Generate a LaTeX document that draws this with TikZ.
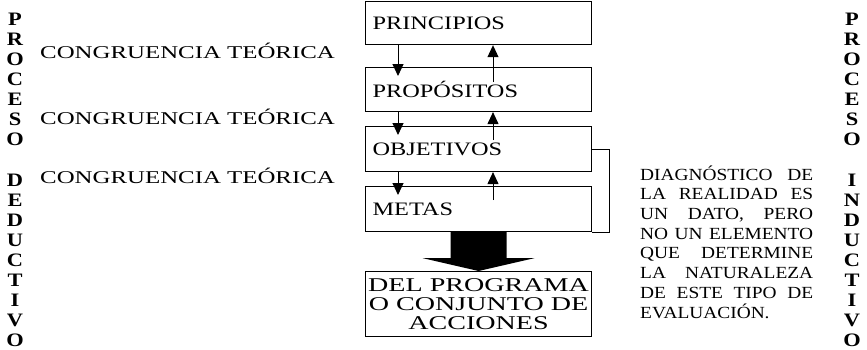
\documentclass[tikz,border=0pt]{standalone}
\usepackage{fontspec}
\setmainfont{Liberation Serif}
\newfontfamily\congfont[FakeStretch=1.38]{Liberation Serif}
\newfontfamily\boxfont[FakeStretch=1.28]{Liberation Serif}
\newfontfamily\progfont[FakeStretch=1.44]{Liberation Serif}
\newfontfamily\parfont[FakeStretch=1.14]{Liberation Serif}
\newfontfamily\vertfont[FakeStretch=1.18]{Liberation Serif}
\usetikzlibrary{arrows.meta}
\begin{document}
\begin{tikzpicture}[x=1pt,y=-1pt,
  box/.style={draw, line width=1.1pt, minimum width=226pt, inner xsep=7pt, text width=212pt, align=left, anchor=north west, font=\boxfont\fontsize{19}{22}\selectfont},
  arr/.style={line width=1pt, -{Triangle[length=12pt,width=11pt]}},
  cong/.style={anchor=base west, inner sep=0pt, font=\congfont\fontsize{18}{20}\selectfont},
  vert/.style={anchor=base, inner sep=0pt, align=center, font=\vertfont\bfseries\fontsize{19}{20.06}\selectfont},
  link/.style={line width=1pt}]
\useasboundingbox (0,0) rectangle (867,349);

% boxes
\node[box, minimum height=43.5pt] (prin) at (365,0.6) {PRINCIPIOS};
\node[box, minimum height=44pt] (prop) at (365,67) {PROPÓSITOS};
\node[box, minimum height=45pt] (obj) at (365,126) {OBJETIVOS};
\node[box, minimum height=45pt] (metas) at (365,186) {METAS};
\node[draw, line width=1.1pt, minimum width=226pt, minimum height=65pt, anchor=north west, align=center, inner sep=0pt, font=\progfont\fontsize{19.5}{19}\selectfont] (prog) at (365,271) {DEL PROGRAMA\\O CONJUNTO DE\\ACCIONES};

% down arrows
\draw[arr] ([xshift=33pt]prin.south west) -- ([xshift=33pt,yshift=-9pt]prop.north west);
\draw[arr] ([xshift=33pt]prop.south west) -- ([xshift=33pt,yshift=-9pt]obj.north west);
\draw[arr] ([xshift=33pt]obj.south west) -- ([xshift=33pt,yshift=-9pt]metas.north west);
% up arrows
\draw[arr] ([xshift=128pt,yshift=-15pt]prop.north west) -- ([xshift=128pt]prin.south west);
\draw[arr] ([xshift=128pt,yshift=-14pt]obj.north west) -- ([xshift=128pt]prop.south west);
\draw[arr] ([xshift=128pt,yshift=-14pt]metas.north west) -- ([xshift=128pt]obj.south west);

% right bracket connector
\draw[link] (obj.east) -- ++(17,0) |- (metas.south east);

% block arrow
\fill ([xshift=-28pt]metas.south) -- ([xshift=28pt]metas.south) -- ([xshift=28pt,yshift=-26pt]metas.south) -- ([xshift=56pt,yshift=-26pt]metas.south) -- (prog.north) -- ([xshift=-56pt,yshift=-26pt]metas.south) -- ([xshift=-28pt,yshift=-26pt]metas.south) -- cycle;

% congruence labels
\node[cong] (c1) at (40,58) {CONGRUENCIA TEÓRICA};
\node[cong] (c2) at (40,124) {CONGRUENCIA TEÓRICA};
\node[cong] (c3) at (40,183.5) {CONGRUENCIA TEÓRICA};

% vertical words (base = baseline of last line)
\node[vert] (pd) at (15,346.5) {P\\R\\O\\C\\E\\S\\O\\[20.06pt]D\\E\\D\\U\\C\\T\\I\\V\\O};
\node[vert] (pi) at (852,346.5) {P\\R\\O\\C\\E\\S\\O\\[20.06pt]I\\N\\D\\U\\C\\T\\I\\V\\O};

% paragraph (base = baseline of last line)
\node[anchor=base west, inner sep=0pt, align=left, font=\parfont\fontsize{17}{19.7}\selectfont] (diag) at (640,318) {\makebox[173pt][s]{DIAGNÓSTICO DE}\\\makebox[173pt][s]{LA REALIDAD ES}\\\makebox[173pt][s]{UN DATO, PERO}\\\makebox[173pt][s]{NO UN ELEMENTO}\\\makebox[173pt][s]{QUE DETERMINE}\\\makebox[173pt][s]{LA NATURALEZA}\\\makebox[173pt][s]{DE ESTE TIPO DE}\\\makebox[173pt][l]{EVALUACIÓN.}};
\end{tikzpicture}
\end{document}
